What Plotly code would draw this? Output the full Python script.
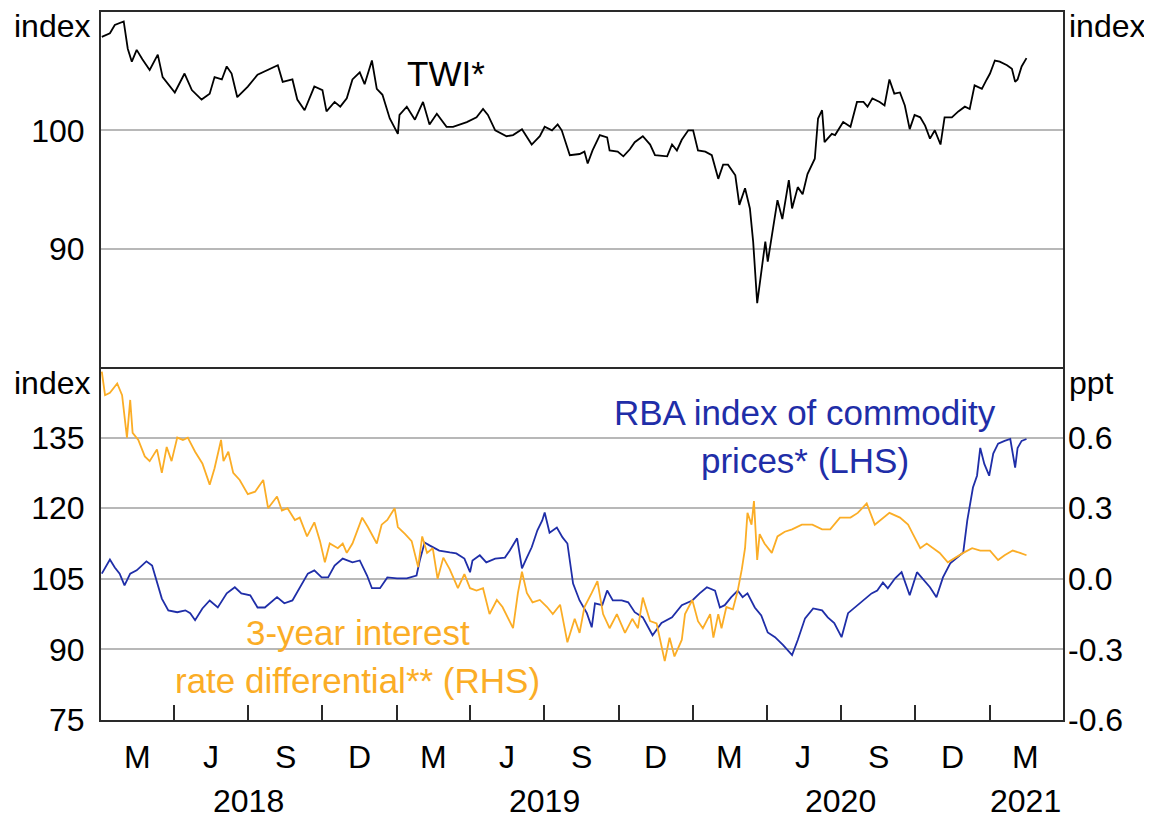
import plotly.graph_objects as go

# ---------------- data ----------------
twi_dates = [
    "2018-01-02", "2018-01-12", "2018-01-18", "2018-01-29", "2018-02-03", "2018-02-08", "2018-02-14", "2018-02-21",
    "2018-03-02", "2018-03-12", "2018-03-18", "2018-04-02", "2018-04-14", "2018-04-23", "2018-05-05", "2018-05-15",
    "2018-05-21", "2018-05-30", "2018-06-05", "2018-06-11", "2018-06-18", "2018-07-01", "2018-07-13", "2018-07-26",
    "2018-08-07", "2018-08-13", "2018-08-25", "2018-08-31", "2018-09-09", "2018-09-21", "2018-10-01", "2018-10-06",
    "2018-10-16", "2018-10-23", "2018-10-31", "2018-11-07", "2018-11-16", "2018-11-22", "2018-12-01", "2018-12-07",
    "2018-12-14", "2018-12-23", "2019-01-02", "2019-01-04", "2019-01-13", "2019-01-23", "2019-02-02", "2019-02-10",
    "2019-02-19", "2019-03-03", "2019-03-11", "2019-03-28", "2019-04-09", "2019-04-17", "2019-04-23", "2019-05-02",
    "2019-05-16", "2019-05-24", "2019-06-04", "2019-06-16", "2019-06-26", "2019-07-02", "2019-07-11", "2019-07-18",
    "2019-07-23", "2019-08-02", "2019-08-14", "2019-08-20", "2019-08-24", "2019-08-30", "2019-09-08", "2019-09-17",
    "2019-09-20", "2019-09-30", "2019-10-07", "2019-10-15", "2019-10-21", "2019-10-31", "2019-11-09", "2019-11-15",
    "2019-11-30", "2019-12-06", "2019-12-12", "2019-12-18", "2019-12-26", "2020-01-01", "2020-01-07", "2020-01-16",
    "2020-01-24", "2020-02-01", "2020-02-07", "2020-02-13", "2020-02-22", "2020-02-27", "2020-03-05", "2020-03-11",
    "2020-03-15", "2020-03-20", "2020-03-23", "2020-03-26", "2020-03-30", "2020-04-02", "2020-04-08", "2020-04-14",
    "2020-04-20", "2020-04-28", "2020-05-02", "2020-05-09", "2020-05-15", "2020-05-21", "2020-05-30", "2020-06-03",
    "2020-06-08", "2020-06-11", "2020-06-20", "2020-06-24", "2020-07-04", "2020-07-13", "2020-07-21", "2020-07-29",
    "2020-08-03", "2020-08-09", "2020-08-18", "2020-08-24", "2020-08-30", "2020-09-05", "2020-09-12", "2020-09-18",
    "2020-09-24", "2020-09-30", "2020-10-07", "2020-10-13", "2020-10-19", "2020-10-25", "2020-11-01", "2020-11-06",
    "2020-11-15", "2020-11-23", "2020-12-01", "2020-12-07", "2020-12-13", "2020-12-22", "2020-12-28", "2021-01-01",
    "2021-01-07", "2021-01-13", "2021-01-22", "2021-01-28", "2021-02-01", "2021-02-04", "2021-02-09", "2021-02-15",
]
twi_values = [
    107.9, 108.2, 108.9, 109.2, 106.9, 105.8, 106.8, 106.0,
    105.1, 106.4, 104.5, 103.2, 104.8, 103.4, 102.6, 103.1,
    104.5, 104.3, 105.4, 104.8, 102.8, 103.7, 104.7, 105.1,
    105.5, 104.1, 104.3, 102.6, 101.7, 103.7, 103.4, 101.6,
    102.4, 102.0, 102.7, 104.3, 104.9, 103.9, 105.9, 103.5,
    103.0, 101.0, 99.7, 101.3, 102.0, 100.9, 102.4, 100.5,
    101.4, 100.3, 100.3, 100.7, 101.1, 101.8, 101.3, 100.0,
    99.5, 99.6, 100.1, 98.8, 99.5, 100.3, 100.0, 100.5,
    100.0, 97.9, 98.0, 98.2, 97.2, 98.3, 99.6, 99.4,
    98.3, 98.2, 97.8, 98.4, 99.0, 99.5, 98.8, 97.9,
    97.8, 98.8, 98.3, 99.2, 100.0, 100.0, 98.3, 98.2,
    97.9, 95.9, 97.1, 97.1, 96.2, 93.7, 95.1, 93.4,
    90.6, 85.4, 87.0, 88.9, 90.6, 88.9, 91.7, 94.1,
    92.5, 95.8, 93.4, 95.2, 94.6, 96.3, 97.6, 101.0,
    101.7, 99.0, 99.7, 99.6, 100.7, 100.3, 102.4, 102.4,
    102.0, 102.7, 102.4, 102.1, 104.3, 103.1, 103.2, 102.1,
    100.1, 101.3, 101.1, 100.4, 99.3, 100.0, 98.8, 101.1,
    101.1, 101.6, 102.0, 101.8, 103.8, 103.5, 104.3, 104.8,
    105.9, 105.8, 105.5, 105.2, 104.1, 104.3, 105.4, 106.1,
]

commodity_dates = [
    "2018-01-02", "2018-01-12", "2018-01-18", "2018-01-24", "2018-01-30", "2018-02-06", "2018-02-14", "2018-02-26",
    "2018-03-05", "2018-03-11", "2018-03-17", "2018-03-25", "2018-04-05", "2018-04-15", "2018-04-21", "2018-04-27",
    "2018-05-06", "2018-05-15", "2018-05-25", "2018-06-05", "2018-06-15", "2018-06-23", "2018-07-04", "2018-07-13",
    "2018-07-22", "2018-08-06", "2018-08-15", "2018-08-25", "2018-09-03", "2018-09-13", "2018-09-21", "2018-09-30",
    "2018-10-08", "2018-10-16", "2018-10-26", "2018-10-31", "2018-11-07", "2018-11-16", "2018-11-25", "2018-12-01",
    "2018-12-11", "2018-12-20", "2019-01-01", "2019-01-13", "2019-01-25", "2019-01-29", "2019-02-04", "2019-02-10",
    "2019-02-22", "2019-03-07", "2019-03-15", "2019-03-25", "2019-04-01", "2019-04-04", "2019-04-13", "2019-04-21",
    "2019-05-02", "2019-05-14", "2019-05-20", "2019-05-29", "2019-06-04", "2019-06-10", "2019-06-16", "2019-06-23",
    "2019-06-29", "2019-07-02", "2019-07-08", "2019-07-17", "2019-07-24", "2019-07-30", "2019-08-06", "2019-08-14",
    "2019-08-23", "2019-08-29", "2019-09-02", "2019-09-11", "2019-09-17", "2019-09-24", "2019-10-05", "2019-10-13",
    "2019-10-21", "2019-10-31", "2019-11-12", "2019-11-23", "2019-12-06", "2019-12-18", "2019-12-31", "2020-01-09",
    "2020-01-18", "2020-01-28", "2020-02-03", "2020-02-09", "2020-02-17", "2020-02-25", "2020-03-02", "2020-03-08",
    "2020-03-17", "2020-03-25", "2020-04-02", "2020-04-11", "2020-04-21", "2020-05-02", "2020-05-09", "2020-05-18",
    "2020-05-28", "2020-06-08", "2020-06-15", "2020-06-23", "2020-07-02", "2020-07-10", "2020-07-18", "2020-07-28",
    "2020-08-08", "2020-08-15", "2020-08-22", "2020-08-28", "2020-09-06", "2020-09-14", "2020-09-24", "2020-10-03",
    "2020-10-10", "2020-10-19", "2020-10-27", "2020-11-04", "2020-11-13", "2020-11-21", "2020-11-29", "2020-12-04",
    "2020-12-08", "2020-12-11", "2020-12-16", "2020-12-20", "2020-12-25", "2020-12-31", "2021-01-05", "2021-01-11",
    "2021-01-19", "2021-01-26", "2021-02-01", "2021-02-04", "2021-02-09", "2021-02-15",
]
commodity_values = [
    106.1, 109.1, 107.4, 106.1, 103.6, 106.1, 106.8, 108.7,
    107.8, 104.0, 100.8, 98.3, 97.9, 98.3, 97.7, 96.2,
    98.7, 100.4, 98.9, 101.9, 103.2, 101.9, 101.5, 98.9,
    98.9, 101.1, 99.8, 100.4, 103.2, 106.1, 106.8, 105.3,
    105.3, 107.8, 109.3, 108.9, 108.5, 108.9, 105.7, 103.0,
    103.0, 105.3, 105.1, 105.1, 105.7, 108.9, 112.7, 112.1,
    111.0, 110.6, 110.4, 109.3, 106.4, 108.9, 110.0, 108.5,
    109.3, 109.5, 111.0, 113.6, 107.2, 109.5, 111.7, 115.3,
    117.4, 119.1, 114.8, 115.9, 113.8, 112.5, 104.0, 100.4,
    97.7, 94.7, 99.8, 99.4, 102.5, 100.4, 100.4, 100.0,
    97.9, 96.8, 93.0, 95.6, 96.8, 99.4, 100.4, 101.9,
    103.2, 102.5, 98.9, 99.4, 101.1, 102.5, 101.1, 101.9,
    98.9, 97.2, 93.6, 92.6, 90.9, 88.8, 92.0, 96.6,
    98.7, 98.3, 96.8, 95.6, 92.6, 97.7, 98.9, 100.4,
    101.9, 102.5, 104.2, 103.0, 105.1, 106.4, 101.5, 106.4,
    105.1, 103.2, 101.1, 105.3, 108.3, 109.5, 110.6, 117.4,
    121.6, 124.4, 126.9, 132.8, 129.4, 126.9, 131.6, 133.7,
    134.3, 134.7, 128.6, 132.8, 134.3, 134.7,
]

rate_diff_dates = [
    "2018-01-02", "2018-01-06", "2018-01-12", "2018-01-21", "2018-01-27", "2018-02-02", "2018-02-06", "2018-02-09",
    "2018-02-16", "2018-02-24", "2018-03-02", "2018-03-11", "2018-03-17", "2018-03-23", "2018-03-29", "2018-04-05",
    "2018-04-12", "2018-04-18", "2018-04-27", "2018-05-06", "2018-05-15", "2018-05-21", "2018-05-29", "2018-06-01",
    "2018-06-07", "2018-06-13", "2018-06-21", "2018-07-01", "2018-07-10", "2018-07-20", "2018-07-26", "2018-08-06",
    "2018-08-12", "2018-08-19", "2018-08-28", "2018-09-03", "2018-09-12", "2018-09-21", "2018-09-28", "2018-10-04",
    "2018-10-10", "2018-10-20", "2018-10-26", "2018-10-31", "2018-11-07", "2018-11-14", "2018-11-19", "2018-11-26",
    "2018-12-07", "2018-12-13", "2018-12-20", "2018-12-29", "2019-01-02", "2019-01-11", "2019-01-19", "2019-01-27",
    "2019-02-01", "2019-02-07", "2019-02-14", "2019-02-20", "2019-02-27", "2019-03-07", "2019-03-17", "2019-03-25",
    "2019-04-01", "2019-04-09", "2019-04-17", "2019-04-25", "2019-05-04", "2019-05-11", "2019-05-24", "2019-05-30",
    "2019-06-04", "2019-06-10", "2019-06-17", "2019-06-26", "2019-07-05", "2019-07-12", "2019-07-21", "2019-07-30",
    "2019-08-08", "2019-08-14", "2019-08-20", "2019-08-29", "2019-09-05", "2019-09-12", "2019-09-20", "2019-09-29",
    "2019-10-09", "2019-10-18", "2019-10-25", "2019-10-31", "2019-11-09", "2019-11-17", "2019-11-27", "2019-12-03",
    "2019-12-09", "2019-12-18", "2019-12-22", "2019-12-31", "2020-01-07", "2020-01-13", "2020-01-22", "2020-01-26",
    "2020-02-01", "2020-02-05", "2020-02-11", "2020-02-19", "2020-02-25", "2020-03-01", "2020-03-05", "2020-03-08",
    "2020-03-13", "2020-03-16", "2020-03-20", "2020-03-23", "2020-03-29", "2020-04-07", "2020-04-14", "2020-04-23",
    "2020-05-02", "2020-05-14", "2020-05-27", "2020-06-08", "2020-06-18", "2020-06-30", "2020-07-13", "2020-07-22",
    "2020-08-02", "2020-08-12", "2020-08-22", "2020-08-30", "2020-09-12", "2020-09-22", "2020-09-28", "2020-10-07",
    "2020-10-15", "2020-10-23", "2020-10-31", "2020-11-10", "2020-11-19", "2020-11-29", "2020-12-10", "2020-12-20",
    "2021-01-01", "2021-01-11", "2021-01-19", "2021-01-29", "2021-02-07", "2021-02-15",
]
rate_diff_values = [
    0.88, 0.78, 0.79, 0.83, 0.78, 0.60, 0.76, 0.62,
    0.59, 0.52, 0.50, 0.55, 0.45, 0.56, 0.50, 0.60,
    0.59, 0.60, 0.54, 0.49, 0.40, 0.47, 0.59, 0.50,
    0.54, 0.45, 0.42, 0.36, 0.37, 0.42, 0.30, 0.35,
    0.29, 0.30, 0.25, 0.26, 0.18, 0.24, 0.16, 0.07,
    0.15, 0.13, 0.15, 0.11, 0.15, 0.21, 0.26, 0.22,
    0.15, 0.23, 0.25, 0.30, 0.22, 0.19, 0.16, 0.05,
    0.18, 0.11, 0.13, 0.00, 0.09, 0.04, -0.04, 0.02,
    -0.04, -0.05, -0.04, -0.15, -0.09, -0.12, -0.21, -0.06,
    0.03, -0.06, -0.10, -0.09, -0.12, -0.15, -0.11, -0.27,
    -0.17, -0.23, -0.12, -0.06, -0.01, -0.15, -0.21, -0.15,
    -0.23, -0.17, -0.21, -0.08, -0.18, -0.19, -0.35, -0.25,
    -0.33, -0.26, -0.15, -0.09, -0.18, -0.21, -0.15, -0.25,
    -0.15, -0.21, -0.12, -0.13, -0.05, 0.04, 0.13, 0.28,
    0.23, 0.33, 0.08, 0.19, 0.15, 0.11, 0.18, 0.20,
    0.21, 0.23, 0.23, 0.21, 0.21, 0.26, 0.26, 0.28,
    0.32, 0.23, 0.26, 0.28, 0.26, 0.23, 0.19, 0.13,
    0.15, 0.13, 0.11, 0.07, 0.09, 0.11, 0.13, 0.12,
    0.12, 0.08, 0.10, 0.12, 0.11, 0.10,
]

assert len(twi_dates) == len(twi_values)
assert len(commodity_dates) == len(commodity_values)
assert len(rate_diff_dates) == len(rate_diff_values)

quarter_ticks = [
    "2018-04-01", "2018-07-01", "2018-10-01", "2019-01-01", "2019-04-01", "2019-07-01",
    "2019-10-01", "2020-01-01", "2020-04-01", "2020-07-01", "2020-10-01", "2021-01-01",
]
month_label_dates = [
    "2018-02-15", "2018-05-16", "2018-08-16", "2018-11-16",
    "2019-02-15", "2019-05-16", "2019-08-16", "2019-11-16",
    "2020-02-15", "2020-05-16", "2020-08-16", "2020-11-16",
    "2021-02-14",
]
month_labels = ["M", "J", "S", "D", "M", "J", "S", "D", "M", "J", "S", "D", "M"]
year_label_dates = ["2018-07-02", "2019-07-02", "2020-07-01", "2021-02-14"]
year_labels = ["2018", "2019", "2020", "2021"]

top_ticks = [90, 100]
bottom_left_ticks = [75, 90, 105, 120, 135]
bottom_right_ticks = [-0.6, -0.3, 0.0, 0.3, 0.6]
bottom_right_text = ["-0.6", "-0.3", "0.0", "0.3", "0.6"]

# ---------------- styling ----------------
FONT = "Arial, Liberation Sans, sans-serif"
TICK_SIZE = 32
ANN_SIZE = 35
BLUE = "#1f2ea8"
ORANGE = "#fbad26"
GRID = "#b8b8b8"
FRAME = "#2a2a2a"
X_RANGE = ["2018-01-01", "2021-04-01"]
SPLIT = 354 / 710
LW = 1.8

fig = go.Figure()
fig.add_trace(go.Scatter(x=twi_dates, y=twi_values, mode="lines",
                         line=dict(color="black", width=LW), xaxis="x", yaxis="y"))
fig.add_trace(go.Scatter(x=rate_diff_dates, y=rate_diff_values, mode="lines",
                         line=dict(color=ORANGE, width=LW), xaxis="x2", yaxis="y4"))
fig.add_trace(go.Scatter(x=commodity_dates, y=commodity_values, mode="lines",
                         line=dict(color=BLUE, width=LW), xaxis="x2", yaxis="y3"))

axis_font = dict(family=FONT, size=TICK_SIZE, color="black")

# The page body adds an 8px offset, so the figure is 8px smaller each way.
fig.update_layout(
    width=1144, height=810,
    margin=dict(l=93, r=89, t=2, b=98),
    paper_bgcolor="white", plot_bgcolor="white",
    showlegend=False,
    font=dict(family=FONT, size=TICK_SIZE, color="black"),
    xaxis=dict(domain=[0, 1], anchor="y", type="date", range=X_RANGE,
               showticklabels=False, ticks="", showgrid=False, zeroline=False,
               showline=True, mirror=True, linecolor=FRAME, linewidth=2),
    yaxis=dict(domain=[SPLIT, 1], anchor="x", range=[80, 110],
               tickvals=top_ticks, ticktext=[str(v) for v in top_ticks],
               showgrid=True, gridcolor=GRID, gridwidth=1.5, zeroline=False,
               showline=True, mirror=True, linecolor=FRAME, linewidth=2,
               ticks="", tickfont=axis_font, ticklabelstandoff=8),
    yaxis2=dict(overlaying="y", side="right", anchor="x", range=[80, 110],
                tickvals=top_ticks, ticktext=[str(v) for v in top_ticks],
                showgrid=False, zeroline=False, showline=False, ticks="",
                tickfont=axis_font, ticklabelstandoff=4),
    xaxis2=dict(domain=[0, 1], anchor="y3", type="date", range=X_RANGE,
                tickvals=quarter_ticks, showticklabels=False,
                ticks="inside", ticklen=15, tickwidth=2, tickcolor=FRAME,
                showgrid=False, zeroline=False,
                showline=True, mirror=False, linecolor=FRAME, linewidth=2),
    yaxis3=dict(domain=[0, SPLIT], anchor="x2", range=[75, 150],
                tickvals=bottom_left_ticks, ticktext=[str(v) for v in bottom_left_ticks],
                showgrid=True, gridcolor=GRID, gridwidth=1.5, zeroline=False,
                showline=True, mirror=True, linecolor=FRAME, linewidth=2,
                ticks="", tickfont=axis_font, ticklabelstandoff=8),
    yaxis4=dict(overlaying="y3", side="right", anchor="x2", range=[-0.6, 0.9],
                tickvals=bottom_right_ticks, ticktext=bottom_right_text,
                showgrid=False, zeroline=False, showline=False, ticks="",
                tickfont=axis_font, ticklabelstandoff=4),
)

anns = []
unit_specs = [
    (0, "right", -8, 1, -14, "index"),
    (1, "left", 4, 1, -14, "index"),
    (0, "right", -8, SPLIT, -16, "index"),
    (1, "left", 4, SPLIT, -16, "ppt"),
]
for x, xa, xs, y, ys, t in unit_specs:
    anns.append(dict(x=x, y=y, xref="paper", yref="paper", text=t, showarrow=False,
                     xanchor=xa, yanchor="middle", xshift=xs, yshift=ys,
                     font=dict(family=FONT, size=TICK_SIZE, color="black")))

for d, t in zip(month_label_dates, month_labels):
    anns.append(dict(x=d, y=0, xref="x2", yref="paper", text=t, showarrow=False,
                     xanchor="center", yanchor="middle", yshift=-37,
                     font=dict(family=FONT, size=TICK_SIZE, color="black")))
for d, t in zip(year_label_dates, year_labels):
    anns.append(dict(x=d, y=0, xref="x2", yref="paper", text=t, showarrow=False,
                     xanchor="center", yanchor="middle", yshift=-81,
                     font=dict(family=FONT, size=TICK_SIZE, color="black")))

anns.append(dict(x=0.316, y=0.9127, xref="paper", yref="paper", text="TWI*", showarrow=False,
                 xanchor="left", yanchor="middle",
                 font=dict(family=FONT, size=ANN_SIZE, color="black")))
anns.append(dict(x=0.732, y=0.4338, xref="paper", yref="paper", text="RBA index of commodity",
                 showarrow=False, xanchor="center", yanchor="middle",
                 font=dict(family=FONT, size=ANN_SIZE, color=BLUE)))
anns.append(dict(x=0.732, y=0.3662, xref="paper", yref="paper", text="prices* (LHS)",
                 showarrow=False, xanchor="center", yanchor="middle",
                 font=dict(family=FONT, size=ANN_SIZE, color=BLUE)))
anns.append(dict(x=0.267, y=0.124, xref="paper", yref="paper", text="3-year interest",
                 showarrow=False, xanchor="center", yanchor="middle",
                 font=dict(family=FONT, size=ANN_SIZE, color=ORANGE)))
anns.append(dict(x=0.267, y=0.056, xref="paper", yref="paper", text="rate differential** (RHS)",
                 showarrow=False, xanchor="center", yanchor="middle",
                 font=dict(family=FONT, size=ANN_SIZE, color=ORANGE)))

fig.update_layout(annotations=anns)
fig.write_html("out.html")
